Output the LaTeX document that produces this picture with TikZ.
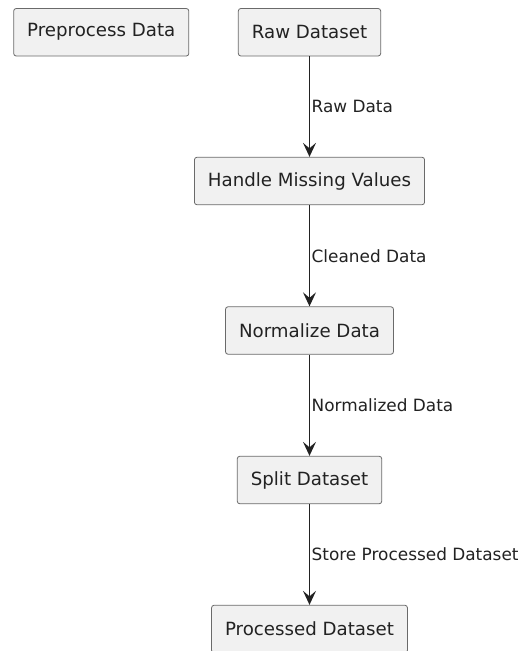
\documentclass[tikz,border=0pt]{standalone}
\usepackage{fontspec}
\newfontfamily\umlfont{DejaVu Sans}
\usetikzlibrary{arrows.meta}
\definecolor{boxfill}{HTML}{F1F1F1}
\definecolor{boxline}{HTML}{6A6A6A}
\definecolor{ink}{HTML}{222222}

\begin{document}
\begin{tikzpicture}
	[x=1pt, y=1pt,
	every node/.style={text=ink},
	stepbox/.style={draw=boxline, line width=0.8pt, fill=boxfill, rounded corners=2.5pt,
		inner xsep=13.5pt, minimum height=47.5pt,
		font=\umlfont\fontsize{18.2}{22}\selectfont},
	flow/.style={draw=ink, line width=1.4pt, -{Stealth[length=14pt, width=13pt, inset=5.5pt]}},
	flowlabel/.style={right, inner sep=0pt, xshift=1.5pt,
		font=\umlfont\fontsize{16.9}{20}\selectfont}]
	\useasboundingbox (0,0) rectangle (521,-651);
	\fill[white] (0,0) rectangle (521,-651);
	\node[stepbox] (prep) at (101.25,-32.25) {Preprocess Data};
	\node[stepbox] (raw) at (309.5,-32.25) {Raw Dataset};
	\node[stepbox] (missing) at (309.5,-181) {Handle Missing Values};
	\node[stepbox] (norm) at (309.5,-330.5) {Normalize Data};
	\node[stepbox] (split) at (309.5,-480) {Split Dataset};
	\node[stepbox] (processed) at (309.5,-629) {Processed Dataset};
	\draw[flow] (raw) -- node[flowlabel] {Raw Data} (missing);
	\draw[flow] (missing) -- node[flowlabel] {Cleaned Data} (norm);
	\draw[flow] (norm) -- node[flowlabel] {Normalized Data} (split);
	\draw[flow] (split) -- node[flowlabel] {Store Processed Dataset} (processed);
\end{tikzpicture}
\end{document}
